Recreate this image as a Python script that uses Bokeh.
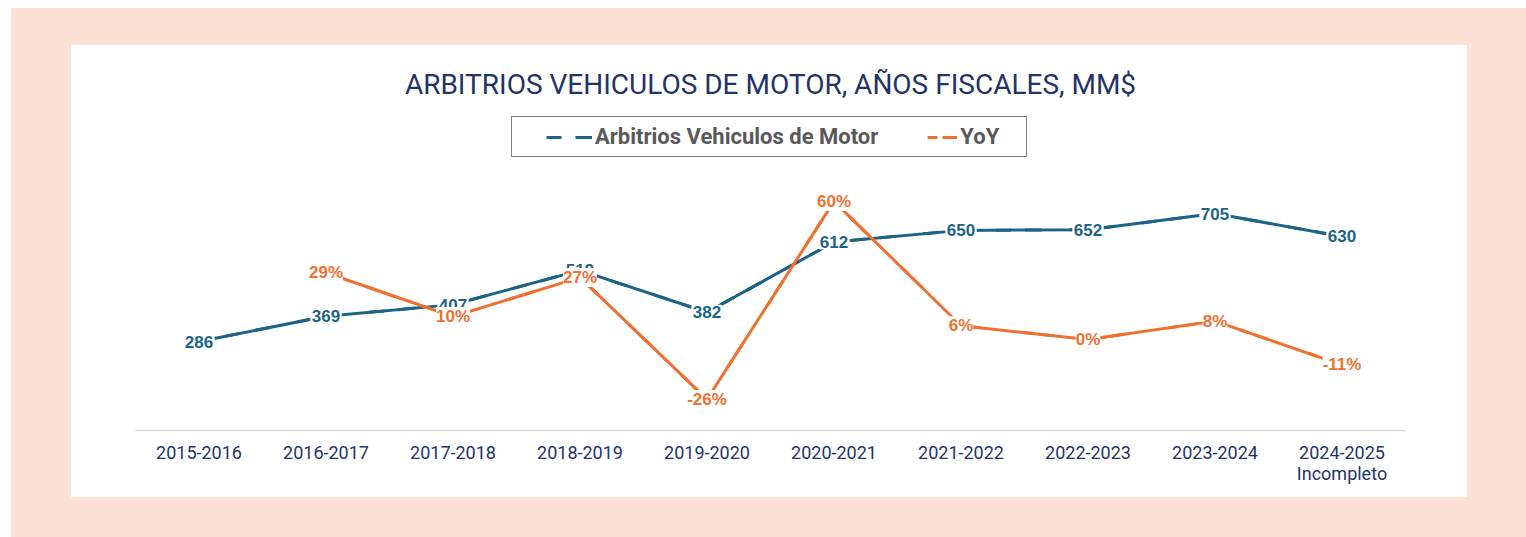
from bokeh.plotting import figure
from bokeh.models import (ColumnDataSource, LabelSet, Range1d, FactorRange,
                          Legend, LegendItem)
from bokeh.layouts import column
from bokeh.core.properties import value
from bokeh.embed import file_html
from bokeh.resources import INLINE

# ---- data ----
years = ["2015-2016", "2016-2017", "2017-2018", "2018-2019", "2019-2020",
         "2020-2021", "2021-2022", "2022-2023", "2023-2024", "2024-2025"]
last_year_note = "Incompleto"
arbitrios = [286, 369, 407, 519, 382, 612, 650, 652, 705, 630]
yoy = [0.29, 0.10, 0.27, -0.26, 0.60, 0.06, 0.00, 0.08, -0.11]   # from 2016-2017

title_text = "ARBITRIOS VEHICULOS DE MOTOR, AÑOS FISCALES, MM$"
series_names = ["Arbitrios Vehiculos de Motor", "YoY"]

BLUE = "#1D6385"
ORANGE = "#EE7132"
NAVY = "#1F3468"
PEACH = "#FCE2D6"

factors = years[:-1] + [years[-1] + "\n" + last_year_note]

src_blue = ColumnDataSource(dict(x=factors, y=arbitrios,
                                 label=[str(v) for v in arbitrios]))
src_orange = ColumnDataSource(dict(x=factors[1:], y=yoy,
                                   label=[f"{int(round(v * 100))}%" for v in yoy]))

p = figure(x_range=FactorRange(factors=factors), y_range=Range1d(-5, 1026),
           width=1396, height=452, output_backend="svg", toolbar_location=None,
           min_border_left=64, min_border_right=62, min_border_top=70,
           min_border_bottom=67)
p.extra_y_ranges = {"pct": Range1d(-0.395, 0.973)}
p.styles = {"background-color": "white"}

p.title.text = title_text
p.title.align = "center"
p.title.text_font = "Roboto"
p.title.text_font_style = "normal"
p.title.text_font_size = "28px"
p.title.text_color = NAVY
p.title.standoff = 29

p.background_fill_color = "white"
p.border_fill_color = "white"
p.outline_line_color = None
p.xgrid.visible = False
p.ygrid.visible = False
p.yaxis.visible = False

ax = p.xaxis[0]
ax.axis_line_color = "#D9D9D9"
ax.axis_line_width = 1.5
ax.major_tick_line_color = None
ax.minor_tick_line_color = None
ax.major_label_standoff = 5
ax.major_label_text_font = "Roboto"
ax.major_label_text_font_size = "18px"
ax.major_label_text_line_height = 1.0
ax.major_label_text_color = NAVY

# dashed copies (used for the legend glyphs), hidden under the solid lines
leg_b = p.line("x", "y", source=src_blue, line_width=3, line_color=BLUE,
               line_dash="15 14 17 27", line_dash_offset=46)
leg_o = p.line("x", "y", source=src_orange, line_width=3, line_color=ORANGE,
               line_dash="10 5 15 43", line_dash_offset=30, y_range_name="pct")

p.line("x", "y", source=src_blue, line_width=3, line_color=BLUE)
p.line("x", "y", source=src_orange, line_width=3, line_color=ORANGE,
       y_range_name="pct")

lab_b = LabelSet(x="x", y="y", text="label", source=src_blue,
                 text_align="center", text_baseline="middle",
                 text_font=value("Liberation Sans"), text_font_style="bold",
                 text_font_size="17px", text_color=BLUE,
                 background_fill_color="white", border_line_color="white",
                 border_line_width=3)
lab_o = LabelSet(x="x", y="y", text="label", source=src_orange,
                 y_range_name="pct",
                 text_align="center", text_baseline="middle",
                 text_font=value("Liberation Sans"), text_font_style="bold",
                 text_font_size="17px", text_color=ORANGE,
                 background_fill_color="white", border_line_color=None)
p.add_layout(lab_b)
p.add_layout(lab_o)

legend = Legend(items=[LegendItem(label=series_names[0], renderers=[leg_b]),
                       LegendItem(label=series_names[1], renderers=[leg_o])],
                orientation="horizontal", location=(376, 273),
                border_line_color="black", border_line_width=1,
                padding=7, margin=0, spacing=6, glyph_width=73,
                label_standoff=3, label_width=59,
                label_text_font="Roboto", label_text_font_style="bold",
                label_text_font_size="22px", label_text_color="#595959",
                background_fill_color="white", background_fill_alpha=1)
p.add_layout(legend)

layout = column(p, styles={"padding": "37px 59px 40px 60px",
                           "margin-left": "11px", "margin-top": "8px",
                           "background-color": PEACH})

open("out.html", "w").write(file_html(layout, INLINE))
